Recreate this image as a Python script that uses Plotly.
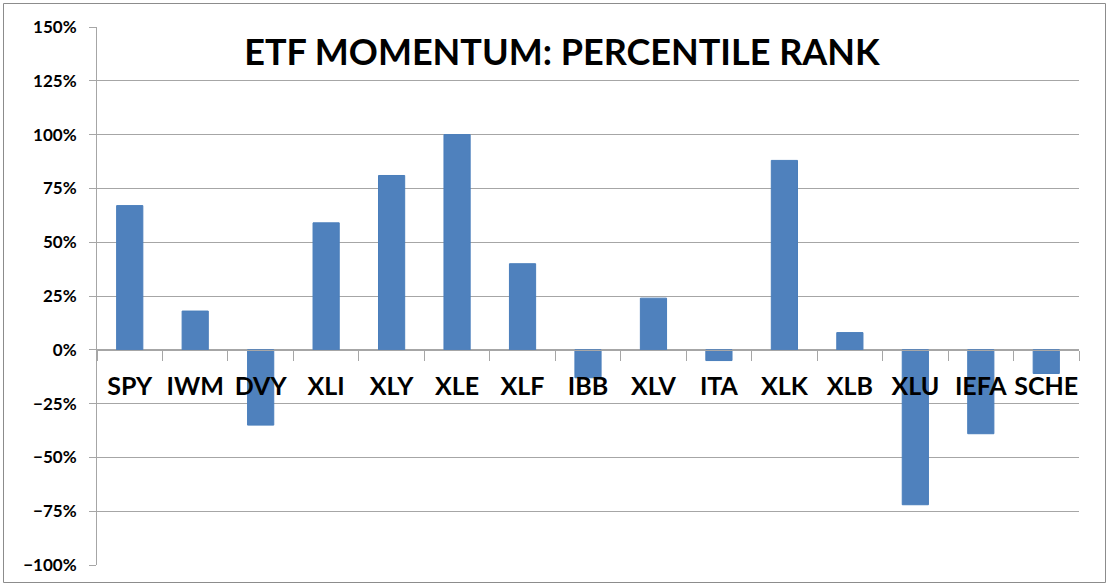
"""ETF momentum percentile rank bar chart."""

import plotly.graph_objects as go

TICKERS = ["SPY", "IWM", "DVY", "XLI", "XLY", "XLE", "XLF", "IBB",
           "XLV", "ITA", "XLK", "XLB", "XLU", "IEFA", "SCHE"]
RANK = [0.67, 0.18, -0.35, 0.59, 0.81, 1.00, 0.40, -0.13,
        0.24, -0.05, 0.88, 0.08, -0.72, -0.39, -0.11]

BAR_COLOR = "#4F81BD"
GRID_COLOR = "#A6A6A6"
FONT = "Lato"

W, H = 1110, 585
PLOT_LEFT, PLOT_RIGHT, PLOT_TOP, PLOT_BOTTOM = 97, 1079, 27, 565
L, T = PLOT_LEFT, PLOT_TOP
R, B = W - PLOT_RIGHT, H - PLOT_BOTTOM
Y_MIN, Y_MAX = -1.0, 1.5


def px_to_paper_x(px):
    return (px - PLOT_LEFT) / (PLOT_RIGHT - PLOT_LEFT)


def px_to_paper_y(py):
    return (PLOT_BOTTOM - py) / (PLOT_BOTTOM - PLOT_TOP)


fig = go.Figure(
    go.Bar(
        x=TICKERS,
        y=RANK,
        marker=dict(color=BAR_COLOR, line=dict(color="#4A7EBB", width=1)),
    )
)

fig.update_layout(
    width=W,
    height=H,
    margin=dict(l=L, r=R, t=T, b=B, autoexpand=False),
    paper_bgcolor="white",
    plot_bgcolor="white",
    bargap=0.6,
    showlegend=False,
    title=dict(
        text="ETF MOMENTUM: PERCENTILE RANK",
        x=562 / W,
        xanchor="center",
        y=1 - 52 / H,
        yanchor="middle",
        font=dict(family=FONT, size=36, color="black", weight="bold"),
    ),
    xaxis=dict(
        type="category",
        anchor="free",
        position=(0 - Y_MIN) / (Y_MAX - Y_MIN),
        automargin=False,
        showline=True,
        linecolor=GRID_COLOR,
        linewidth=1,
        ticks="outside",
        tickson="boundaries",
        ticklen=10,
        tickcolor=GRID_COLOR,
        tickangle=0,
        ticklabelstandoff=14,
        showgrid=False,
        tickfont=dict(family=FONT, size=25, color="black", weight="bold"),
    ),
    yaxis=dict(
        range=[Y_MIN, Y_MAX],
        dtick=0.25,
        tickformat=".0%",
        automargin=False,
        layer="below traces",
        showline=True,
        linecolor=GRID_COLOR,
        showgrid=True,
        gridcolor=GRID_COLOR,
        zeroline=False,
        ticks="outside",
        ticklen=7,
        tickcolor=GRID_COLOR,
        ticklabelstandoff=9,
        tickfont=dict(family=FONT, size=17, color="black", weight="bold"),
    ),
    shapes=[
        # outer chart frame
        dict(
            type="rect",
            xref="paper",
            yref="paper",
            x0=px_to_paper_x(3.5),
            x1=px_to_paper_x(1105.5),
            y0=px_to_paper_y(582.5),
            y1=px_to_paper_y(3.5),
            line=dict(color="#8C8C8C", width=1),
            layer="below",
        )
    ],
)

# drop the default 8px body margin so the figure sits at the page origin
fig.write_html(
    "out.html",
    config={"displayModeBar": False},
    post_script="document.body.style.margin = '0';",
)
